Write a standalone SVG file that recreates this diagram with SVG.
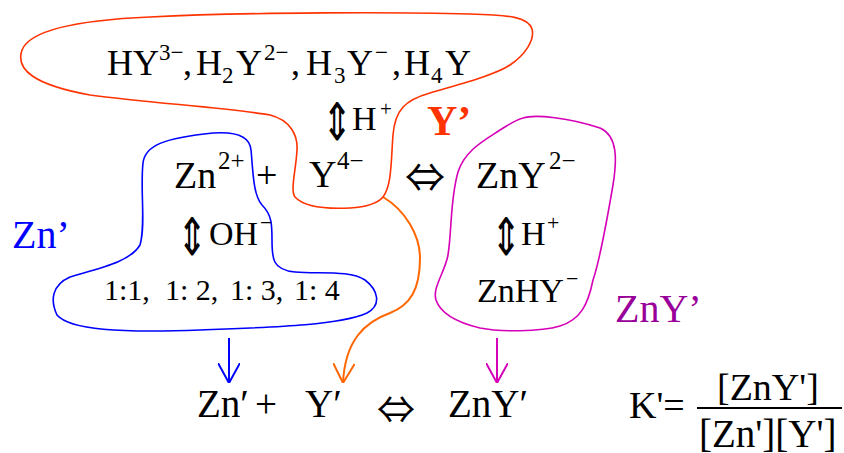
<svg xmlns="http://www.w3.org/2000/svg" width="844" height="453" viewBox="0 0 844 453">
<style>
text{font-family:"Liberation Serif","DejaVu Serif",serif;fill:#000}
.sym{font-family:"Noto Sans CJK JP","DejaVu Sans",sans-serif}
.ud{font-family:"DejaVu Sans",sans-serif}
.curve{fill:none;stroke-width:1.6}
.arr{fill:none;stroke-width:2}
</style>
<defs>
<marker id="ab" viewBox="0 0 20 22" refX="20" refY="11" markerWidth="20" markerHeight="22" markerUnits="userSpaceOnUse" orient="auto"><path d="M0,0 L20,11 L0,22" fill="none" stroke="#0000ff" stroke-width="2"/></marker>
<marker id="ao" viewBox="0 0 20 22" refX="20" refY="11" markerWidth="20" markerHeight="22" markerUnits="userSpaceOnUse" orient="auto"><path d="M0,0 L20,11 L0,22" fill="none" stroke="#ff6600" stroke-width="2"/></marker>
<marker id="am" viewBox="0 0 20 22" refX="20" refY="11" markerWidth="20" markerHeight="22" markerUnits="userSpaceOnUse" orient="auto"><path d="M0,0 L20,11 L0,22" fill="none" stroke="#d600b8" stroke-width="2"/></marker>
</defs>
<g id="connectors">
<path d="M383,197 C405,210 420,235 420,258 C420,290 410,305 390,313 C365,322 345,340 343,383" class="arr" stroke="#ff6600" marker-end="url(#ao)"/>
<path d="M229,338 L229,383" class="arr" stroke="#0000ff" marker-end="url(#ab)"/>
<path d="M497,338 L497,383" class="arr" stroke="#d600b8" marker-end="url(#am)"/>
</g>
<g id="yprime">
<path class="curve" stroke="#ff3300" d="M383,197 C392,185 391,160 393,135 C395,110 405,100 430,93 C460,84 495,75 510,65 C525,55 535,40 532,29 C528,17 510,15 470,14 C400,12 250,12 150,17 C80,20 30,30 22,50 C15,70 35,85 90,95 C150,103 230,108 270,115 C290,120 298,135 297,150 C296,170 290,190 295,197 C305,208 330,209 350,208 C365,207 378,203 383,197 Z"/>
<text x="107" y="75" font-size="36">HY<tspan x="159" y="60" font-size="23">3−</tspan><tspan x="183" y="75">,</tspan><tspan x="196">H</tspan><tspan x="222" y="83" font-size="23">2</tspan><tspan x="236" y="75">Y</tspan><tspan x="264" y="60" font-size="23">2−</tspan><tspan x="291" y="75">,</tspan><tspan x="306">H</tspan><tspan x="334" y="83" font-size="23">3</tspan><tspan x="347" y="75">Y</tspan><tspan x="375" y="60" font-size="23">−</tspan><tspan x="392" y="75">,</tspan><tspan x="404">H</tspan><tspan x="431" y="83" font-size="23">4</tspan><tspan x="445" y="75">Y</tspan></text>
<text transform="translate(322,120) scale(1,1.45)" x="0" y="13.5" font-size="36" class="ud">⇕</text>
<text x="352" y="130" font-size="34">H<tspan x="380" y="116" font-size="21">+</tspan></text>
<text x="427" y="135" font-size="42" font-weight="bold" style="fill:#ff3300">Y’</text>
<text x="309" y="187" font-size="38">Y<tspan x="337" y="169" font-size="25">4−</tspan></text>
</g>
<g id="znprime">
<path class="curve" stroke="#0000ff" d="M143,163 C145,145 165,138 213,133 C240,131 250,138 251,150 C253,170 253,195 262,205 C272,215 272,225 272,240 C272,258 272,270 295,272 C320,274 350,270 365,280 C378,290 382,305 367,313 C340,325 280,327 200,330 C120,333 70,330 57,315 C50,300 52,285 70,277 C100,268 130,262 140,245 C146,225 140,190 143,163 Z"/>
<text x="174" y="188" font-size="38">Zn<tspan x="218" y="169" font-size="25">2+</tspan></text>
<text x="256" y="188" font-size="38">+</text>
<text transform="translate(177,235) scale(1,1.45)" x="0" y="13.5" font-size="36" class="ud">⇕</text>
<text x="209" y="245" font-size="34">OH<tspan x="260" y="230" font-size="22">−</tspan></text>
<text y="300" font-size="30"><tspan x="104">1:1,</tspan><tspan x="165">1: 2,</tspan><tspan x="230">1: 3,</tspan><tspan x="294">1: 4</tspan></text>
<text x="12" y="248" font-size="40" style="fill:#0000ff">Zn’</text>
</g>
<g id="znyprime">
<path class="curve" stroke="#d600b8" d="M523,118 C535,114 570,118 600,128 C618,136 617,160 613,185 C607,220 600,260 593,280 C588,305 580,320 560,326 C540,332 500,332 480,328 C455,322 440,312 436,300 C432,288 445,272 448,255 C452,230 450,200 458,172 C465,150 485,140 500,130 C510,124 515,120 523,118 Z"/>
<text x="476" y="188" font-size="38">ZnY<tspan x="549" y="169" font-size="25">2−</tspan></text>
<text transform="translate(491,235) scale(1,1.45)" x="0" y="13.5" font-size="36" class="ud">⇕</text>
<text x="521" y="245" font-size="34">H<tspan x="547" y="230" font-size="22">+</tspan></text>
<text x="477" y="302" font-size="34">ZnHY<tspan x="566" y="286" font-size="22">−</tspan></text>
<text x="615" y="322" font-size="40" style="fill:#990099">ZnY’</text>
</g>
<g id="arrow-top">
<text x="405" y="192" font-size="40" class="sym">⇔</text>
</g>
<g id="bottom">
<text x="197" y="417" font-size="39">Zn′</text>
<text x="255" y="417" font-size="39">+</text>
<text x="305" y="417" font-size="39">Y′</text>
<text x="377" y="423" font-size="38" class="sym">⇔</text>
<text x="448" y="417" font-size="39">ZnY′</text>
</g>
<g id="kformula">
<text x="629" y="418" font-size="38">K'=</text>
<line x1="697" y1="408" x2="842" y2="408" stroke="#000" stroke-width="2"/>
<text x="717" y="400" font-size="38">[ZnY']</text>
<text x="699" y="447" font-size="39">[Zn'][Y']</text>
</g>
</svg>
